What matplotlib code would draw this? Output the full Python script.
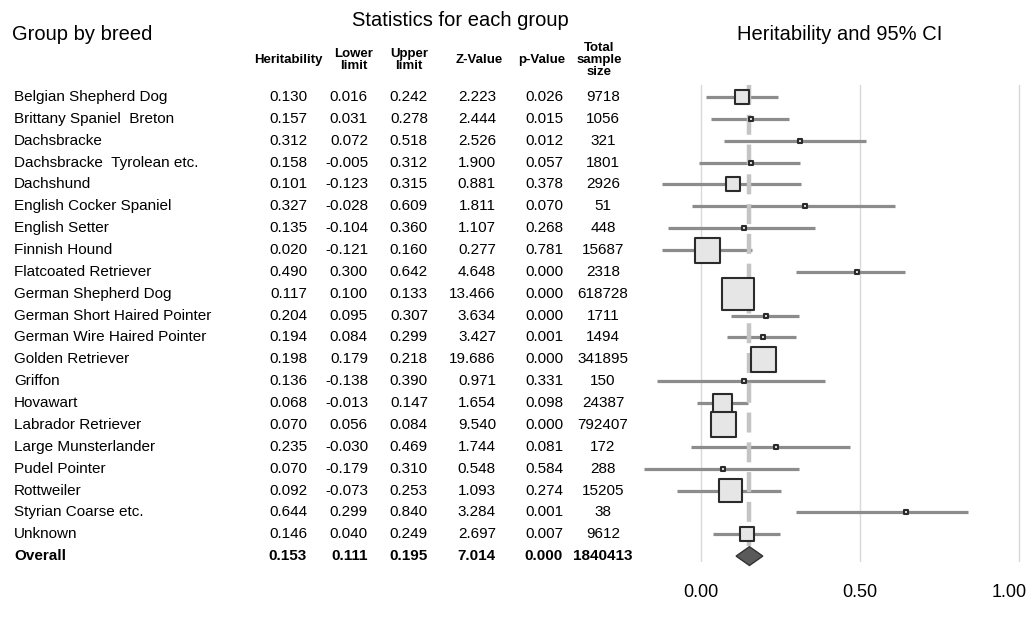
import matplotlib
matplotlib.use("Agg")
import matplotlib.pyplot as plt
import matplotlib.transforms as mtransforms
from matplotlib.patches import Polygon

plt.rcParams['font.family'] = ['Liberation Sans', 'DejaVu Sans']

# Данные по породам
breeds = ["Belgian Shepherd Dog", "Brittany Spaniel  Breton", "Dachsbracke",
          "Dachsbracke  Tyrolean etc.", "Dachshund", "English Cocker Spaniel",
          "English Setter", "Finnish Hound", "Flatcoated Retriever",
          "German Shepherd Dog", "German Short Haired Pointer",
          "German Wire Haired Pointer", "Golden Retriever", "Griffon", "Hovawart",
          "Labrador Retriever", "Large Munsterlander", "Pudel Pointer",
          "Rottweiler", "Styrian Coarse etc.", "Unknown"]
heritability = [0.130, 0.157, 0.312, 0.158, 0.101, 0.327, 0.135, 0.020, 0.490, 0.117,
                0.204, 0.194, 0.198, 0.136, 0.068, 0.070, 0.235, 0.070, 0.092, 0.644, 0.146]
lower = [0.016, 0.031, 0.072, -0.005, -0.123, -0.028, -0.104, -0.121, 0.300, 0.100,
         0.095, 0.084, 0.179, -0.138, -0.013, 0.056, -0.030, -0.179, -0.073, 0.299, 0.040]
upper = [0.242, 0.278, 0.518, 0.312, 0.315, 0.609, 0.360, 0.160, 0.642, 0.133,
         0.307, 0.299, 0.218, 0.390, 0.147, 0.084, 0.469, 0.310, 0.253, 0.840, 0.249]
z_value = [2.223, 2.444, 2.526, 1.900, 0.881, 1.811, 1.107, 0.277, 4.648, 13.466,
           3.634, 3.427, 19.686, 0.971, 1.654, 9.540, 1.744, 0.548, 1.093, 3.284, 2.697]
p_value = [0.026, 0.015, 0.012, 0.057, 0.378, 0.070, 0.268, 0.781, 0.000, 0.000,
           0.000, 0.001, 0.000, 0.331, 0.098, 0.000, 0.081, 0.584, 0.274, 0.001, 0.007]
sample_size = [9718, 1056, 321, 1801, 2926, 51, 448, 15687, 2318, 618728,
               1711, 1494, 341895, 150, 24387, 792407, 172, 288, 15205, 38, 9612]
# относительный вес (размер квадрата), оценён по картинке
rel_weight = [14, 4, 4, 4, 14, 4, 4, 25, 4, 32, 4, 4, 25, 4, 19, 25, 4, 4, 23, 4, 14]

# Итоговая строка
overall = {"h": 0.153, "lo": 0.111, "hi": 0.195, "z": 7.014, "p": 0.000, "n": 1840413}

W, H = 1027, 617
fig = plt.figure(figsize=(W / 100, H / 100), dpi=100)

# Оси для forest plot
x0_px, x_scale = 700.7, 318.6
xlim = (-0.2, 1.02)
left_px = x0_px + xlim[0] * x_scale
right_px = x0_px + xlim[1] * x_scale
top_px, bot_px = 85, 562
ax = fig.add_axes([left_px / W, 1 - bot_px / H, (right_px - left_px) / W, (bot_px - top_px) / H])
ax.set_xlim(*xlim)
ax.set_ylim(21.27, -0.55)
for s in ax.spines.values():
    s.set_visible(False)
ax.set_yticks([])
ax.set_xticks([0, 0.5, 1.0])
ax.set_xticklabels(["0.00", "0.50", "1.00"], fontsize=13)
ax.tick_params(axis='x', length=0, pad=15.5)
ax.grid(axis='x', color='#d9d9d9', lw=1)
ax.set_axisbelow(True)
# последняя подпись сдвинута влево, чтобы влезла
lbl = ax.get_xticklabels()[-1]
lbl.set_transform(lbl.get_transform() + mtransforms.ScaledTranslation(-10 / 100, 0, fig.dpi_scale_trans))

rows = list(range(len(breeds)))
# Доверительные интервалы
for i in rows:
    ax.plot([lower[i], upper[i]], [i, i], color='#8c8c8c', lw=2.3, solid_capstyle='butt', zorder=2)

# Линия общего эффекта
ax.plot([overall["h"], overall["h"]], [-0.55, 20.55], color='#c4c4c4', lw=3.2,
        dashes=(4.5, 2.2), zorder=3)

# Квадраты
sizes = [(w * 0.72) ** 2 for w in rel_weight]
ax.scatter(heritability, rows, s=sizes, marker='s', facecolor='#e6e6e6',
           edgecolor='#2b2b2b', linewidths=1.5, zorder=4)

# Ромб для итога
dh = 0.43
ax.add_patch(Polygon([(overall["lo"], 21), (overall["h"], 21 - dh), (overall["hi"], 21),
                      (overall["h"], 21 + dh)], closed=True, facecolor='#5a5a5a',
                     edgecolor='#333333', lw=1, zorder=5, clip_on=False))

# Таблица слева
tr = mtransforms.blended_transform_factory(fig.transFigure, ax.transData)
col_right = [307, 368, 428, 496, 563]
total_center = 603
fs = 11
for i in rows:
    ax.text(14 / W, i, breeds[i], transform=tr, fontsize=fs, va='center', ha='left')
    vals = ["%.3f" % heritability[i], "%.3f" % lower[i], "%.3f" % upper[i],
            "%.3f" % z_value[i], "%.3f" % p_value[i]]
    for v, xr in zip(vals, col_right):
        ax.text(xr / W, i, v, transform=tr, fontsize=fs, va='center', ha='right')
    ax.text(total_center / W, i, str(sample_size[i]), transform=tr, fontsize=fs,
            va='center', ha='center')

i = 21
ax.text(14 / W, i, "Overall", transform=tr, fontsize=fs, va='center', ha='left', fontweight='bold')
vals = ["%.3f" % overall["h"], "%.3f" % overall["lo"], "%.3f" % overall["hi"],
        "%.3f" % overall["z"], "%.3f" % overall["p"]]
for v, xr in zip(vals, col_right):
    ax.text(xr / W, i, v, transform=tr, fontsize=fs, va='center', ha='right', fontweight='bold')
ax.text(total_center / W, i, str(overall["n"]), transform=tr, fontsize=fs,
        va='center', ha='center', fontweight='bold')

# Заголовки
fig.text(12 / W, 1 - 35 / H, "Group by breed", fontsize=14.5, va='center', ha='left')
fig.text(460 / W, 1 - 20 / H, "Statistics for each group", fontsize=14.5, va='center', ha='center')
fig.text(840 / W, 1 - 35 / H, "Heritability and 95% CI", fontsize=14.5, va='center', ha='center')

headers = ["Heritability", "Lower\nlimit", "Upper\nlimit", "Z-Value", "p-Value", "Total\nsample\nsize"]
header_x = [288, 354, 409, 479, 542, 599]
for h, x in zip(headers, header_x):
    fig.text(x / W, 1 - 60 / H, h, fontsize=9.5, fontweight='bold', va='center',
             ha='center', multialignment='center', linespacing=0.95)

fig.savefig("out.png", dpi=100)
